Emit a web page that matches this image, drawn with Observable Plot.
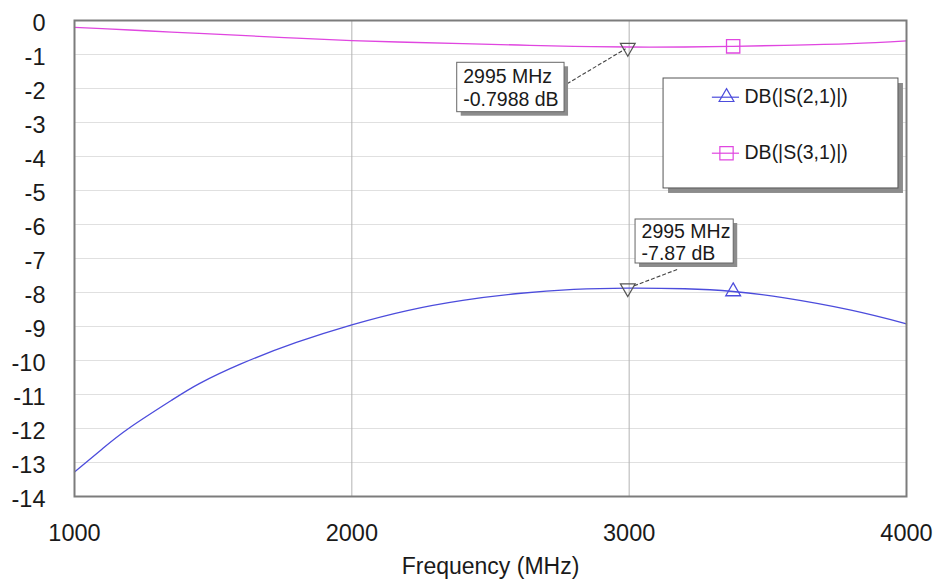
<!DOCTYPE html>
<html><head><meta charset="utf-8">
<script src="https://cdn.jsdelivr.net/npm/d3@7"></script>
<script src="https://cdn.jsdelivr.net/npm/@observablehq/plot@0.6"></script>
<style>body{margin:0;background:#fff;font-family:"Liberation Sans",Arial,sans-serif}</style>
</head><body><div id="chart"></div>
<script>
const freq = [1000, 1100, 1200, 1350, 1450, 1600, 1800, 2000, 2200, 2400, 2600, 2800, 2995, 3200, 3375, 3560, 3800, 4000];
const s21  = [-13.28, -12.6, -11.97, -11.17, -10.68, -10.1, -9.47, -8.95, -8.53, -8.23, -8.03, -7.91, -7.87, -7.89, -7.97, -8.16, -8.52, -8.92];
const s31  = [-0.2, -0.24, -0.28, -0.34, -0.38, -0.44, -0.52, -0.59, -0.64, -0.68, -0.72, -0.76, -0.78, -0.78, -0.76, -0.73, -0.68, -0.6];
const seriesNames = ["DB(|S(2,1)|)", "DB(|S(3,1)|)"];
const seriesColors = ["#4c4cdc", "#e046e0"];
const seriesSymbols = ["triangle", "square"];
const symbolRadius = [5.5, 7.5];
const markerFreq = 3375;
const xTicks = [1000, 2000, 3000, 4000];
const yTicks = d3.range(-14, 1);
const markerLabels = [
  {f: 2995, v: -0.7988, lines: ["2995 MHz", "-0.7988 dB"], box: [2380, 2767, -1.244, -2.697], lead: [2776, -1.862, 2987, -0.832]},
  {f: 2995, v: -7.87, lines: ["2995 MHz", "-7.87 dB"], box: [3023, 3377, -5.853, -7.147], lead: [3173, -7.324, 3011, -7.824]}
];
const legendBox = [3124, 3971, -1.706, -4.94];
const legendRows = [-2.256, -3.903];
const legendLine = [3300, 3398];
const legendSymbolX = 3351;
const legendTextX = 3416;

const s21Data = freq.map((f, i) => ({f, v: s21[i]}));
const s31Data = freq.map((f, i) => ({f, v: s31[i]}));
const series = [s21, s31];
const symData = series.map((s, i) => ({f: markerFreq, v: s[freq.indexOf(markerFreq)], s: i}));
const boxes = markerLabels.map(m => ({x1: m.box[0], x2: m.box[1], y1: m.box[2], y2: m.box[3], m}));
const leaders = markerLabels.map(m => ({x1: m.lead[0], y1: m.lead[1], x2: m.lead[2], y2: m.lead[3]}));
const legendData = legendRows.map((y, i) => ({y, i}));
const font = '"Liberation Sans", Arial, sans-serif';

const symbolMarks = [0, 1].flatMap(i => [
  Plot.dot(symData.filter(d => d.s === i), {x: "f", y: "v", symbol: seriesSymbols[i], stroke: seriesColors[i], r: symbolRadius[i], fill: "none", strokeWidth: 1.3}),
  Plot.dot(legendData.filter(d => d.i === i), {x: legendSymbolX, y: "y", symbol: seriesSymbols[i], stroke: seriesColors[i], r: symbolRadius[i], fill: "none", strokeWidth: 1.2})
]);

const plot = Plot.plot({
  width: 936, height: 581,
  marginLeft: 74, marginRight: 30, marginTop: 20, marginBottom: 85,
  style: {fontFamily: font, background: "#fff"},
  x: {domain: [1000, 4000]},
  y: {domain: [-14, 0]},
  marks: [
    Plot.gridY(yTicks, {stroke: "#e0e0e0", strokeOpacity: 1}),
    Plot.gridX([2000, 3000], {stroke: "#b4b4b4", strokeOpacity: 1}),
    Plot.axisY(yTicks, {tickSize: 0, tickPadding: 29, fontSize: 23.5, fill: "#1a1a1a", dy: 3, tickFormat: d => String(d), label: null}),
    Plot.axisX(xTicks, {tickSize: 0, tickPadding: 28, fontSize: 23.5, fill: "#1a1a1a", tickFormat: d => String(d), label: null}),
    Plot.text(["Frequency (MHz)"], {frameAnchor: "bottom", lineAnchor: "middle", dy: 70, fontSize: 23, fill: "#1a1a1a"}),
    Plot.line(s31Data, {x: "f", y: "v", stroke: seriesColors[1], strokeWidth: 1.3, curve: "natural"}),
    Plot.line(s21Data, {x: "f", y: "v", stroke: seriesColors[0], strokeWidth: 1.3, curve: "natural"}),
    Plot.dot(markerLabels, {x: "f", y: "v", symbol: "triangle", rotate: 180, stroke: "#555", fill: "none", r: 5.5, strokeWidth: 1.2}),
    Plot.link(leaders, {x1: "x1", y1: "y1", x2: "x2", y2: "y2", stroke: "#444", strokeDasharray: "4,2", strokeWidth: 1.1}),
    Plot.rect(boxes, {x1: "x1", x2: "x2", y1: "y1", y2: "y2", fill: "#8c8c8c", dx: 4, dy: 4}),
    Plot.rect(boxes, {x1: "x1", x2: "x2", y1: "y1", y2: "y2", fill: "#fff", stroke: "#666", strokeWidth: 1}),
    Plot.text(boxes, {x: "x1", y: d => (d.y1 + d.y2) / 2, text: d => d.m.lines.join("\n"), textAnchor: "start", lineAnchor: "middle", dx: 6, fontSize: 19.5, lineHeight: 1.14, fill: "#1a1a1a"}),
    Plot.rect([legendBox], {x1: d => d[0], x2: d => d[1], y1: d => d[2], y2: d => d[3], fill: "#8c8c8c", dx: 5, dy: 5}),
    Plot.rect([legendBox], {x1: d => d[0], x2: d => d[1], y1: d => d[2], y2: d => d[3], fill: "#fff", stroke: "#555", strokeWidth: 1}),
    Plot.ruleY(legendData, {y: "y", x1: legendLine[0], x2: legendLine[1], stroke: d => seriesColors[d.i], strokeWidth: 1.2}),
    ...symbolMarks,
    Plot.text(legendData, {x: legendTextX, y: "y", text: d => seriesNames[d.i], textAnchor: "start", fontSize: 19.5, fill: "#1a1a1a"}),
    Plot.frame({stroke: "#7c7c7c", strokeWidth: 2})
  ]
});
document.getElementById("chart").append(plot);
</script>
</body></html>
